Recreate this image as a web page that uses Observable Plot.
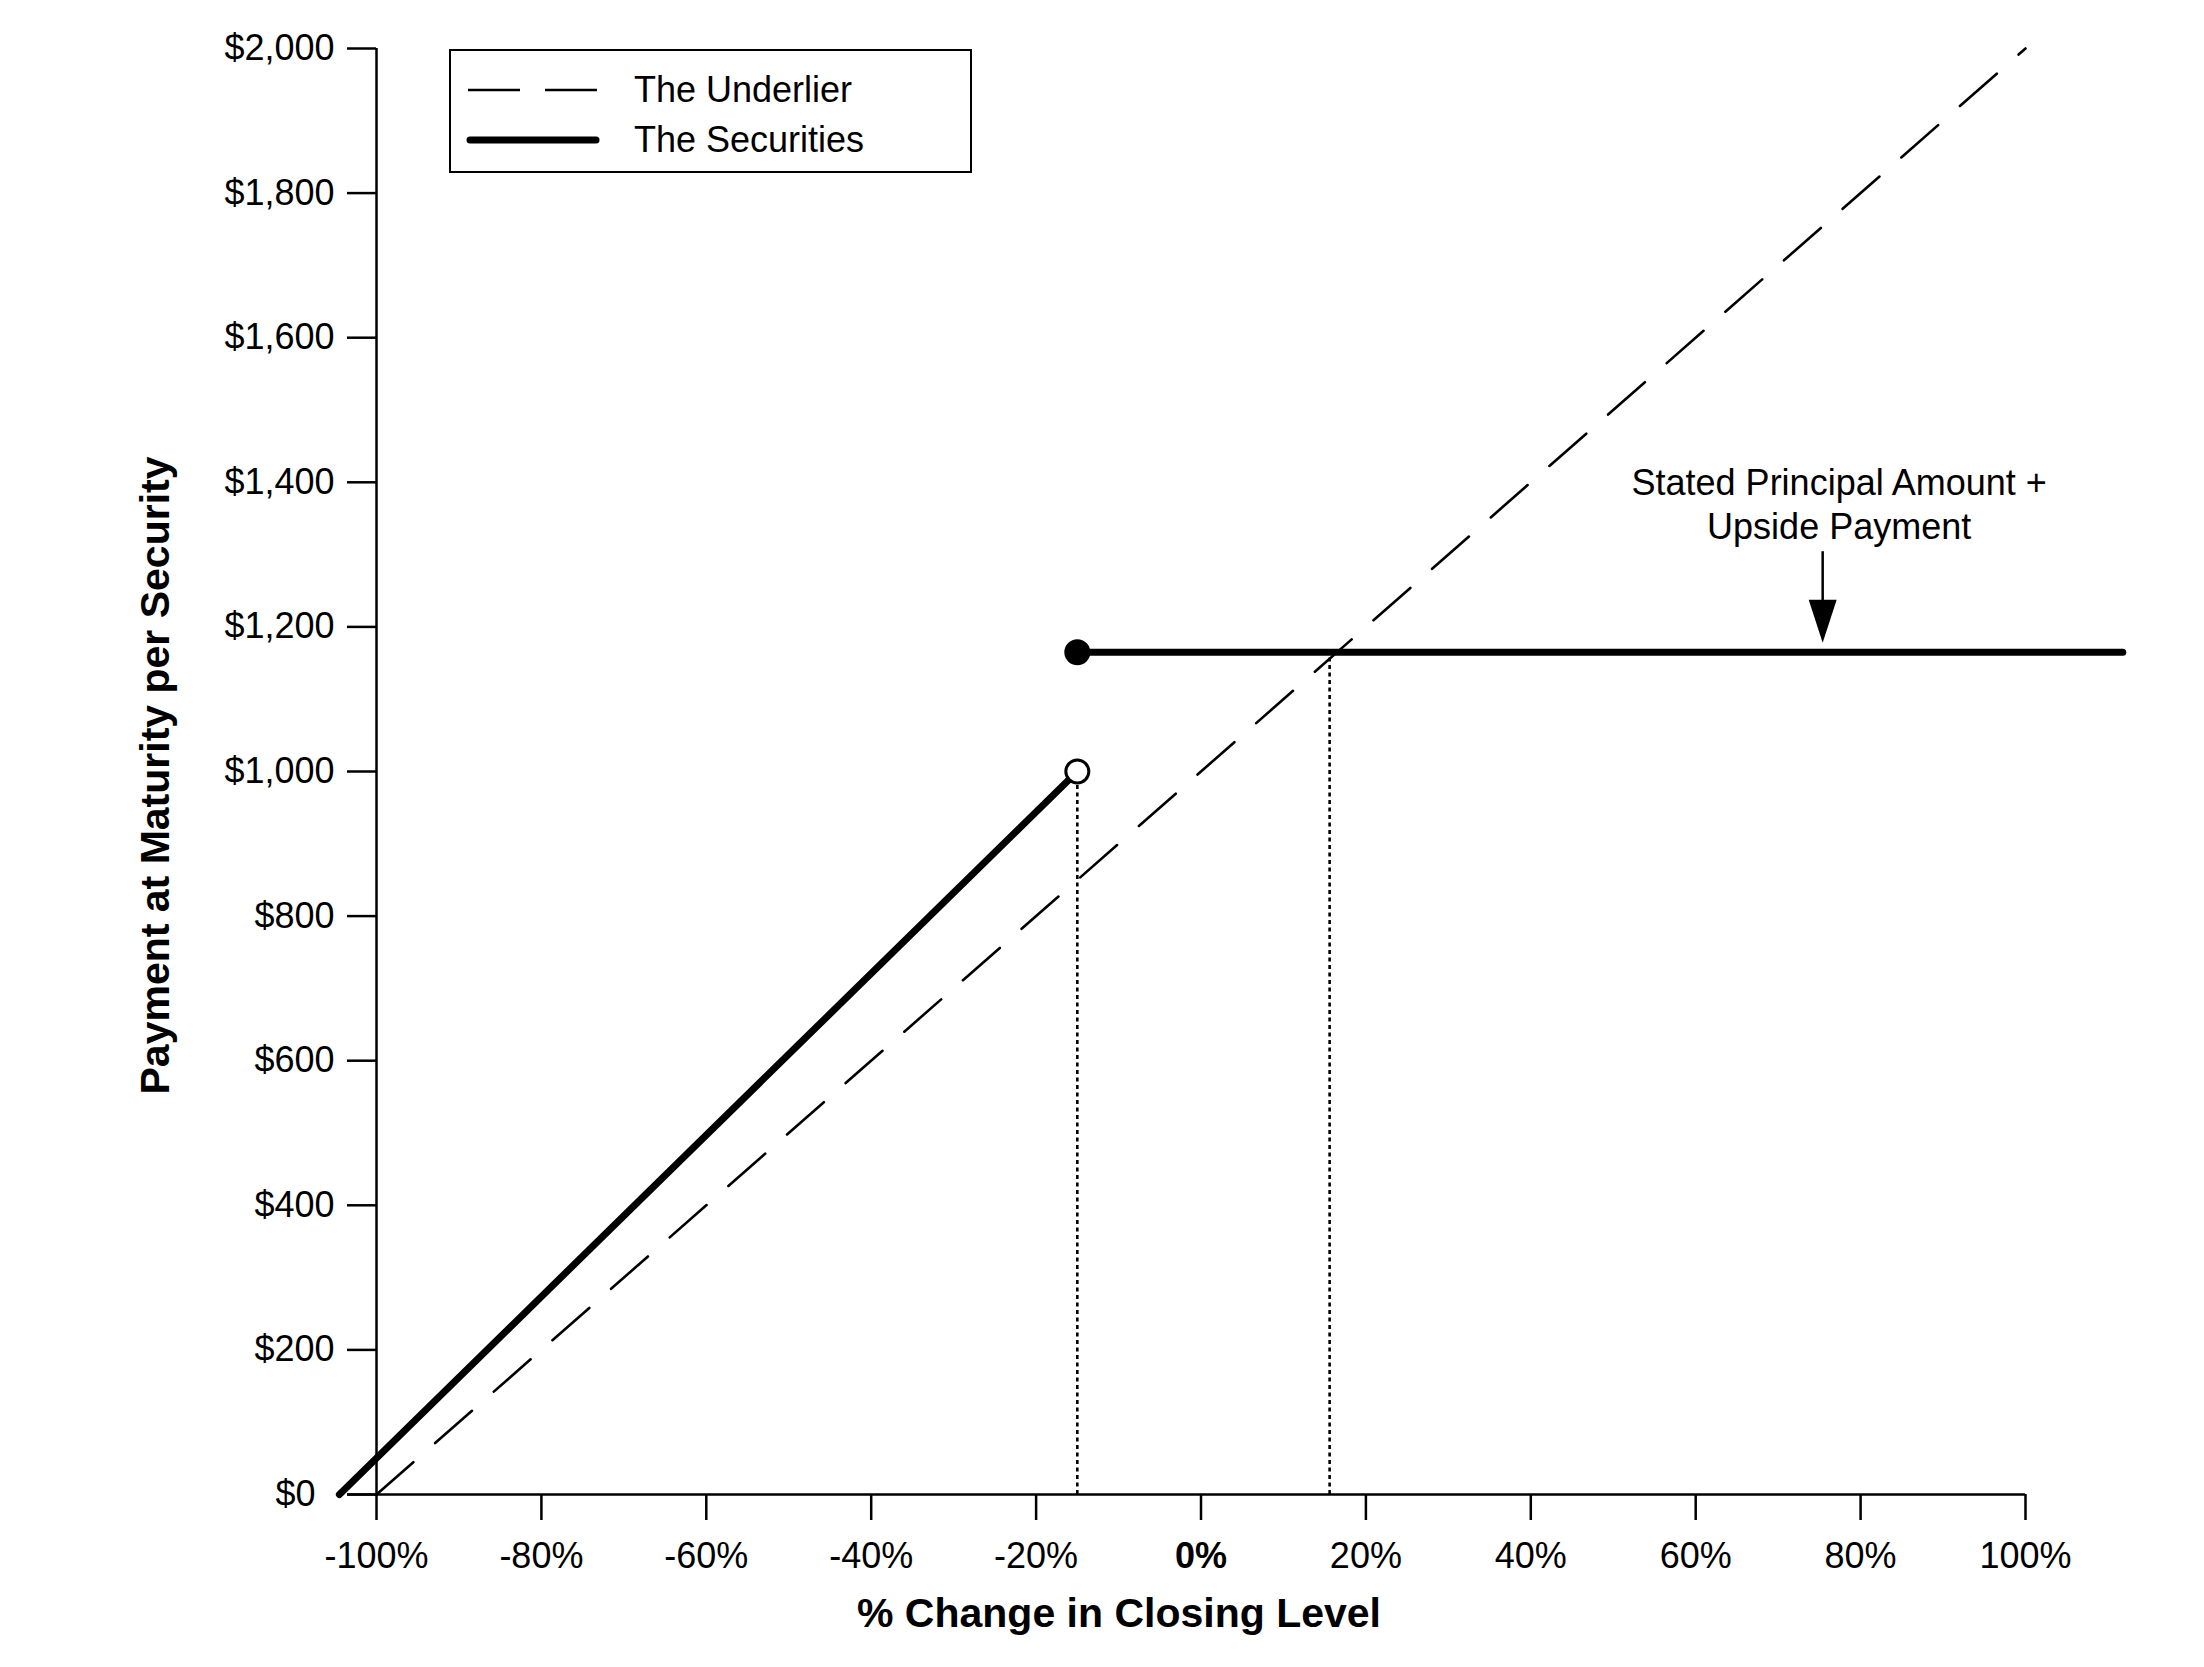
<!DOCTYPE html>
<html><head><meta charset="utf-8">
<script src="https://cdn.jsdelivr.net/npm/d3@7"></script>
<script src="https://cdn.jsdelivr.net/npm/@observablehq/plot@0.6"></script>
<style>
html,body{margin:0;padding:0;background:#fff;overflow:hidden;}
#wrap{position:relative;width:2204px;height:1667px;font-family:"Liberation Sans",Arial,sans-serif;color:#000;}
#legend{position:absolute;left:449px;top:49px;width:523px;height:124px;border:2.5px solid #000;box-sizing:border-box;background:#fff;}
.row{position:absolute;left:0;height:44px;display:flex;align-items:center;font-size:36px;white-space:nowrap;}
.row svg{margin-left:15px;margin-right:34px;}
</style></head>
<body><div id="wrap"><div id="chart"></div><div id="legend"></div></div>
<script>
// ---- data ----
const xTicks = [-100, -80, -60, -40, -20, 0, 20, 40, 60, 80, 100];
const yTicks = [0, 200, 400, 600, 800, 1000, 1200, 1400, 1600, 1800, 2000];
const underlierPct = [-100, 100];
const underlierPay = [0, 2000];
const downsidePct = [-104.5, -15];
const downsidePay = [0, 1000];
const capPct = [-15, 111.8];
const capPay = [1165, 1165];
const openDotPct = [-15];
const openDotPay = [1000];
const solidDotPct = [-15];
const solidDotPay = [1165];
const guidePct = [-15, 15.6];
const guidePay = [1000, 1165];
const noteText = ["Stated Principal Amount +\nUpside Payment"];
const notePct = [77.4];
const notePay = [1372];
const arrowPct = [75.4];
const arrowTop = [1304];
const arrowTip = [1178];
const legendLabels = ["The Underlier", "The Securities"];
const xTitle = "% Change in Closing Level";
const yTitle = "Payment at Maturity per Security";
const axisStartPct = -103.5;

const FONT = '"Liberation Sans", Arial, sans-serif';
const idx = n => d3.range(n);

const arrowHead = {
  draw(ctx) { ctx.moveTo(0, 0); ctx.lineTo(-14, -43); ctx.lineTo(14, -43); ctx.closePath(); }
};

const chart = Plot.plot({
  width: 2204, height: 1667,
  marginLeft: 376, marginRight: 179, marginTop: 48, marginBottom: 173,
  style: {fontFamily: FONT, fontSize: "36px", color: "#000", background: "#fff", overflow: "visible"},
  x: {domain: [-100, 100]},
  y: {domain: [0, 2000]},
  marks: [
    // underlier (dashed)
    Plot.line(idx(2), {x: underlierPct, y: underlierPay, stroke: "#000", strokeWidth: 2.6, strokeDasharray: "49,29"}),
    // dotted guides
    Plot.ruleX(idx(2), {x: guidePct, y1: 0, y2: guidePay, stroke: "#000", strokeWidth: 2.6, strokeDasharray: "4,3.5"}),
    // axes
    Plot.axisY(yTicks, {tickSize: 29, tickPadding: 13, tickFormat: d3.format("$,"), label: null, fontSize: 36, strokeWidth: 2.5}),
    Plot.axisX(xTicks, {tickSize: 26, tickPadding: 22, tickFormat: d => d + "%", label: null, fontSize: 36, strokeWidth: 2.5}),
    Plot.ruleX([xTicks[0]], {y1: yTicks[0], y2: yTicks[yTicks.length - 1], stroke: "#000", strokeWidth: 2.5}),
    Plot.ruleY([0], {x1: axisStartPct, x2: xTicks[xTicks.length - 1], stroke: "#000", strokeWidth: 2.5}),
    // securities (bold)
    Plot.line(idx(2), {x: downsidePct, y: downsidePay, stroke: "#000", strokeWidth: 7, strokeLinecap: "round"}),
    Plot.line(idx(2), {x: capPct, y: capPay, stroke: "#000", strokeWidth: 7, strokeLinecap: "round"}),
    Plot.dot(idx(1), {x: openDotPct, y: openDotPay, r: 11.5, fill: "#fff", stroke: "#000", strokeWidth: 3}),
    Plot.dot(idx(1), {x: solidDotPct, y: solidDotPay, r: 13, fill: "#000", stroke: "none"}),
    // annotation
    Plot.text(noteText, {x: notePct, y: notePay, text: d => d, fontSize: 36, lineHeight: 1.22, textAnchor: "middle", lineAnchor: "middle", fill: "#000"}),
    Plot.ruleX(idx(1), {x: arrowPct, y1: arrowTop, y2: arrowTip.map(v => v + 40), stroke: "#000", strokeWidth: 2.5}),
    Plot.dot(idx(1), {x: arrowPct, y: arrowTip, symbol: arrowHead, fill: "#000", stroke: "none"}),
    // titles
    Plot.text([yTitle], {frameAnchor: "left", text: d => d, rotate: -90, dx: -221, dy: 4, fontSize: 41, fontWeight: "bold", textAnchor: "middle", lineAnchor: "middle", fill: "#000"}),
    Plot.text([xTitle], {frameAnchor: "bottom", text: d => d, dx: -82, dy: 119, fontSize: 41, fontWeight: "bold", textAnchor: "middle", lineAnchor: "middle", fill: "#000"})
  ]
});

d3.select(chart).selectAll('g[aria-label="x-axis tick label"] text')
  .filter(function() { return this.textContent === "0%"; })
  .attr("font-weight", "bold");
d3.select(chart).selectAll('g[aria-label="y-axis tick label"] text')
  .filter(function() { return this.textContent === "$0"; })
  .attr("dx", -19);

document.getElementById("chart").appendChild(chart);

// legend
const legend = d3.select("#legend");
const rowsTop = [17, 67];
legendLabels.forEach((lab, i) => {
  const row = legend.append("div").attr("class", "row").style("top", rowsTop[i] + "px");
  const sw = row.append("svg").attr("width", 134).attr("height", 14);
  const ln = sw.append("line").attr("x1", 2).attr("x2", 132).attr("y1", 7).attr("y2", 7).attr("stroke", "#000");
  if (i === 0) ln.attr("stroke-width", 2.5).attr("stroke-dasharray", "52,25");
  else ln.attr("stroke-width", 7).attr("stroke-linecap", "round").attr("x1", 4).attr("x2", 130);
  row.append("span").text(lab);
});
</script>
</body></html>
